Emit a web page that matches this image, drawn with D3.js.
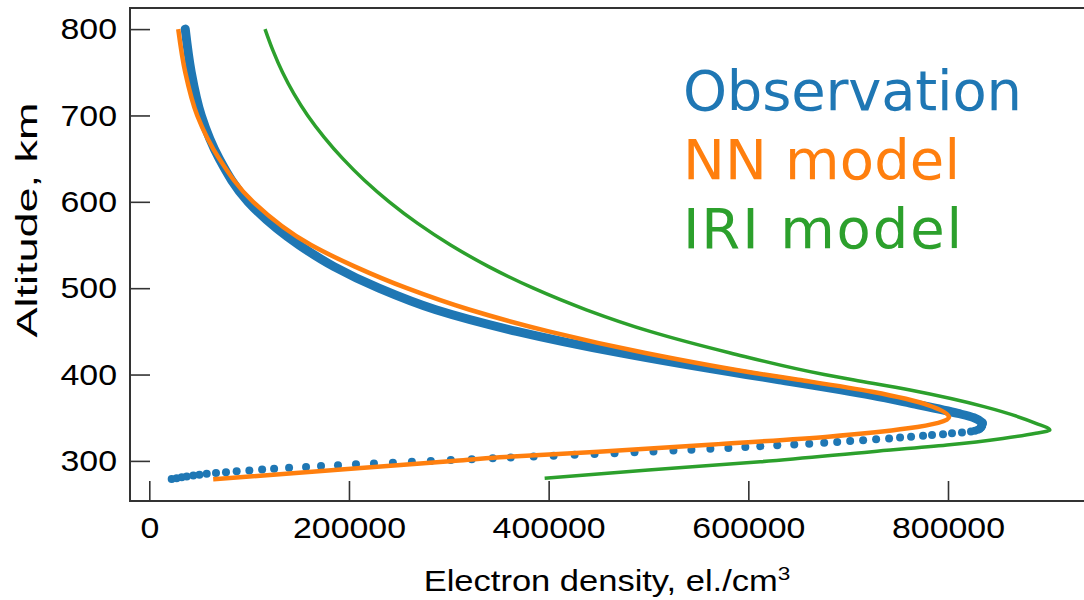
<!DOCTYPE html>
<html><head><meta charset="utf-8">
<script src="https://cdn.jsdelivr.net/npm/d3@7"></script>
<style>body{margin:0;background:#fff}svg{display:block}</style>
</head><body>
<svg id="c" width="1084" height="600"></svg>
<script>
// ---- data (electron density in el./cm^3, altitude in km) ----
const obsAlt = [279,280,281,282,283,284,285,286,287,288,289,290,291,292,293,294,295,296,297,298,299,300,301,302,303,304,305,306,307,308,309,310,311,312,313,314,315,316,317,318,319,320,321,322,323,324,325,326,327,328,329,330,331,332,333,334,335,336,337,338,339,340,341,342,343,344];
const obsNe  = [22400,27400,32500,37500,44100,50200,57500,66800,76800,87500,100200,113000,125000,140000,157000,172000,189000,207000,225000,244000,263000,282000,302000,323000,344000,362000,385000,405000,426000,446000,466000,486000,505000,525000,543000,562000,580000,597000,612000,629000,646000,661000,676000,689000,702000,715000,728000,741000,752000,763000,775000,784000,795000,804000,814000,823000,827000,830000,831500,832500,833300,833800,834200,834400,834500,834500];
const obsTopAlt = [344,350,355,367,376,394,400,425,450,475,500,525,550,600,650,700,750,800];
const obsTopNe  = [834500,826000,810000,762000,724000,631000,598000,472000,368000,287000,230000,185000,150000,99000,70000,52000,42000,36000];

const nnAlt = [278.7,290,300,304.2,310.7,319,328,337.7,350.5,364.7,380,394,400,425,450,475,500,525,550,600,650,700,750,800];
const nnNe  = [64000,192000,304000,351000,450000,565000,680000,760000,801000,780000,724000,650000,616000,497000,400000,321000,258000,206000,162000,104000,70000,48000,36000,29000];

const iriAlt = [279.8,289.5,299,310.7,318.4,326,332,335.8,343.5,362.8,382,393.7,400,425,450,475,500,525,550,575,600,625,650,675,700,725,750,775,800];
const iriNe  = [396000,500000,612000,724000,799000,855000,888000,902000,888000,836000,762000,706000,676000,582000,501500,437700,384700,339900,301700,268800,240300,215400,193800,175000,158600,144900,133400,123900,115900];

const xTicks = [0,200000,400000,600000,800000];
const yTicks = [300,400,500,600,700,800];
const legendLabels = ["Observation","NN model","IRI model"];
const colors = ["#1f77b4","#ff7f0e","#2ca02c"];

// ---- layout ----
const svg = d3.select("#c");
const x = d3.scaleLinear().domain([0,800000]).range([149.3,948]);
const y = d3.scaleLinear().domain([300,800]).range([460.9,29.1]);
const frame = {left:130, right:1110, top:8, bottom:501};
const font = "'Liberation Sans', Arial, Helvetica, sans-serif";

const line = d3.line().x(d=>x(d[1])).y(d=>y(d[0])).curve(d3.curveMonotoneY);

const obsTop = obsTopAlt.map((a,i)=>[a,obsTopNe[i]]);
svg.append("path").attr("d", line(obsTop)).attr("fill","none")
  .attr("stroke",colors[0]).attr("stroke-width",9).attr("stroke-linecap","round");
svg.append("g").selectAll("circle").data(obsAlt.map((a,i)=>[a,obsNe[i]])).join("circle")
  .attr("cx",d=>x(d[1])).attr("cy",d=>y(d[0])).attr("r",4).attr("fill",colors[0]);

svg.append("path").attr("d", line(nnAlt.map((a,i)=>[a,nnNe[i]]))).attr("fill","none")
  .attr("stroke",colors[1]).attr("stroke-width",4.5);
svg.append("path").attr("d", line(iriAlt.map((a,i)=>[a,iriNe[i]]))).attr("fill","none")
  .attr("stroke",colors[2]).attr("stroke-width",3.5);

// frame
svg.append("rect").attr("x",frame.left).attr("y",frame.top)
  .attr("width",frame.right-frame.left).attr("height",frame.bottom-frame.top)
  .attr("fill","none").attr("stroke","#333").attr("stroke-width",2);

// axes
const xAxis = svg.append("g").attr("transform",`translate(0,${frame.bottom})`)
  .call(d3.axisBottom(x).tickValues(xTicks).tickFormat(d3.format("d")).tickSize(-20).tickPadding(16));
const yAxis = svg.append("g").attr("transform",`translate(${frame.left},0)`)
  .call(d3.axisLeft(y).tickValues(yTicks).tickFormat(d3.format("d")).tickSize(-20).tickPadding(13));
[xAxis,yAxis].forEach(g=>{
  g.select(".domain").remove();
  g.selectAll(".tick line").attr("stroke","#333").attr("stroke-width",1.6);
  g.selectAll(".tick text").attr("fill","#000").style("font-family",font).style("font-size","30px");
});
// slightly wide tick lettering as in the reference
xAxis.selectAll(".tick text").attr("transform","scale(1.13,1)");
yAxis.selectAll(".tick text").each(function(){
  const t=d3.select(this); const xx=+t.attr("x");
  t.attr("x",xx/1.13).attr("transform","scale(1.13,1)");
});

// axis titles
const xt = svg.append("text").attr("transform","translate(607,591) scale(1.19,1)").attr("text-anchor","middle")
  .style("font-family",font).style("font-size","29px").attr("fill","#000");
xt.append("tspan").text("Electron density, el./cm");
xt.append("tspan").text("3").attr("dy",-11).style("font-size","19px");
svg.append("text").attr("transform","translate(37,220) rotate(-90) scale(1.5,1)").attr("text-anchor","middle")
  .style("font-family",font).style("font-size","30px").attr("fill","#000").text("Altitude, km");

// legend text
const legendWidths = [339,277,279];
svg.append("g").selectAll("text").data(legendLabels).join("text")
  .attr("x",683).attr("y",(d,i)=>110+i*69).text(d=>d)
  .attr("textLength",(d,i)=>legendWidths[i]).attr("lengthAdjust","spacing")
  .attr("fill",(d,i)=>colors[i])
  .style("font-family","'DejaVu Sans', sans-serif").style("font-size","56px");
</script>
</body></html>
